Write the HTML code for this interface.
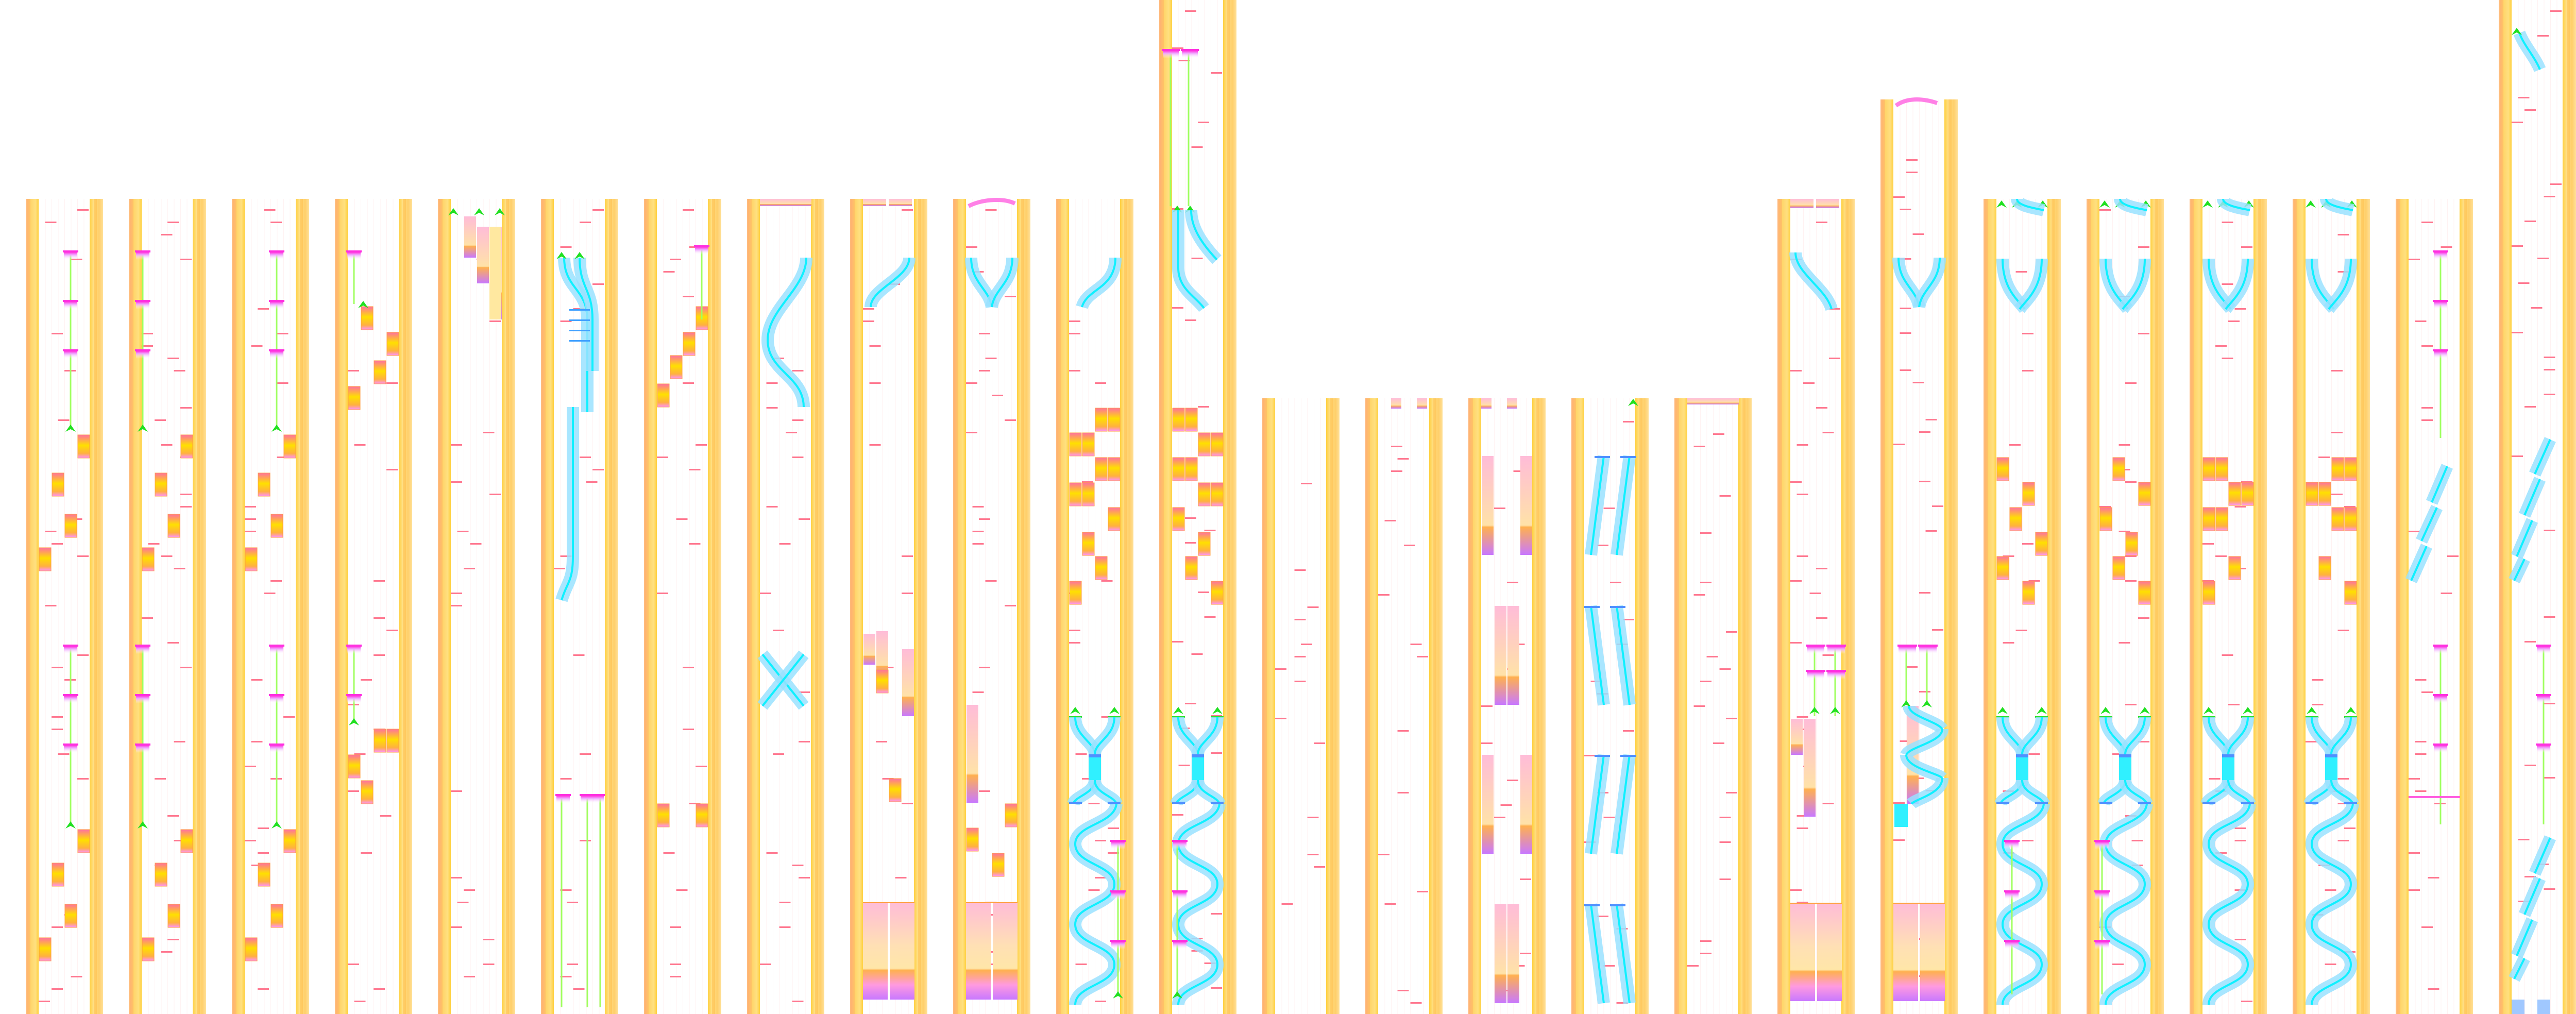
<!DOCTYPE html>
<html><head><meta charset="utf-8">
<style>
html,body{margin:0;padding:0;background:#fff;}
body{width:5050px;height:1968px;overflow:hidden;font-family:"Liberation Sans",sans-serif;}
svg{display:block}
</style></head>
<body>
<svg id="s" width="5050" height="1968" viewBox="0 0 5050 1968" xmlns="http://www.w3.org/2000/svg">
<defs>
<linearGradient id="barL" x1="0" x2="1" y1="0" y2="0">
<stop offset="0" stop-color="#ffb880"/><stop offset="0.35" stop-color="#ffd468"/><stop offset="0.75" stop-color="#ffe080"/><stop offset="1" stop-color="#ffd040"/></linearGradient>
<linearGradient id="barR" x1="0" x2="1" y1="0" y2="0">
<stop offset="0" stop-color="#ffd040"/><stop offset="0.3" stop-color="#ffe088"/><stop offset="0.7" stop-color="#ffcf6a"/><stop offset="1" stop-color="#ffe098"/></linearGradient>
<linearGradient id="boxG" x1="0" x2="0" y1="0" y2="1">
<stop offset="0" stop-color="#ff70a0"/><stop offset="0.45" stop-color="#ffe000"/><stop offset="0.8" stop-color="#ffb040"/><stop offset="1" stop-color="#ff90ff"/></linearGradient>
<linearGradient id="bigG" x1="0" x2="0" y1="0" y2="1">
<stop offset="0" stop-color="#ffbcd8"/><stop offset="0.45" stop-color="#ffe0b4"/><stop offset="0.68" stop-color="#ffe6a8"/><stop offset="0.7" stop-color="#ffb050"/><stop offset="0.85" stop-color="#ff9ae0"/><stop offset="1" stop-color="#c878ff"/></linearGradient>
<linearGradient id="tallG" x1="0" x2="0" y1="0" y2="1">
<stop offset="0" stop-color="#ffbcd8"/><stop offset="0.7" stop-color="#ffe2a8"/><stop offset="0.72" stop-color="#ffb050"/><stop offset="1" stop-color="#c878ff"/></linearGradient>
<linearGradient id="magG" x1="0" x2="0" y1="0" y2="1">
<stop offset="0" stop-color="#ff40e0"/><stop offset="0.3" stop-color="#f0a0ff"/><stop offset="1" stop-color="#ffffff" stop-opacity="0"/></linearGradient>
</defs>
<g id="g"></g>
</svg>
<script>
(function(){
var s='';
function R(x,y,w,h,f,ex){s+='<rect x="'+x+'" y="'+y+'" width="'+w+'" height="'+h+'" fill="'+f+'" '+(ex||'')+'/>';}
function P(d,st,w,op){s+='<path d="'+d+'" fill="none" stroke="'+st+'" stroke-width="'+w+'" stroke-opacity="'+(op||1)+'" stroke-linecap="butt"/>';}
var tops=[386,386,386,386,386,386,386,386,386,386,386,0,773,773,773,773,773,386,193,386,386,386,386,386,0];
var seed=7;function rnd(){seed=(seed*16807)%2147483647;return seed/2147483647;}
function cx(i){return 50+200*i;}
function L(i,l){return cx(i)+25+l*25;}
for(var i=0;i<25;i++){
 var x=cx(i),t=tops[i];
 for(var k=1;k<8;k++)R(x+25+k*12.5,t,1,1968-t,'#fff2f2');
 R(x,t,25,1968-t,'url(#barL)');
 R(x+124,t,26,1968-t,'url(#barR)');
 R(x+2,t,7,1968-t,'#ff9a60','opacity="0.3"');
 R(x+132,t,6,1968-t,'#ffb030','opacity="0.35"');
 var y=t+20;
 while(y<1950){ if(rnd()<0.36){var o=Math.floor(rnd()*7)*12.5; R(x+25+o,y,22,3,'#ff7890');} y+=24;}
}
function box(i,l,y){R(L(i,l)+1,y,23,45,'url(#boxG)','stroke="#ffa040" stroke-width="1"');}
function big(i,y0,y1){R(L(i,0),y0,48,y1-y0,'url(#bigG)');R(L(i,2)+2,y0,48,y1-y0,'url(#bigG)');R(L(i,0),y0,100,2,'#ffa040');}
function tall(i,l,y0,y1,w){R(L(i,l)+1,y0,w||23,y1-y0,'url(#tallG)');}
function mag(x,y,w){R(x,y,w||30,4,'#ff30e0');R(x+2,y+4,(w||30)-4,14,'url(#magG)');}
function gline(x,y0,y1){R(x-1.5,y0,3,y1-y0,'#a0ff60');}
function ghead(x,y){s+='<path d="M'+(x-10)+','+(y+8)+' L'+(x)+','+(y-6)+' L'+(x+10)+','+(y+8)+' L'+x+','+(y+3)+'Z" fill="#20e020"/>';}
function band(d){P(d,'#90f4ff',24,0.8);P(d,'#b8a8ff',24,0.2);P(d,'#10f0ff',4,1);}
[0,1,2].forEach(function(i){
 [[3,844],[1,918],[2,998],[0,1063],[3,1610],[1,1675],[2,1755],[0,1820]].forEach(function(b){box(i,b[0],b[1]);});
});
var lx=[L(0,2)+12,L(1,0)+2,L(2,2)+12];
[0,1,2].forEach(function(i){var X=lx[i];
 gline(X,490,830);mag(X-15,486);mag(X-15,582);mag(X-15,678);ghead(X,830);
 gline(X,1255,1600);mag(X-15,1251);mag(X-15,1347);mag(X-15,1443);ghead(X,1600);
});
[[1,595],[3,645],[2,700],[0,750]].forEach(function(b){box(3,b[0],b[1]);});
[[0,1465],[1,1515],[2,1415],[3,1415]].forEach(function(b){box(3,b[0],b[1]);});
gline(L(3,0)+12,1255,1400);mag(L(3,0)-3,1251);mag(L(3,0)-3,1347);ghead(L(3,0)+12,1400);
gline(L(3,0)+12,490,590);mag(L(3,0)-3,486);ghead(L(3,0)+30,590);
tall(4,1,420,500);tall(4,2,440,550);tall(4,3,440,620);R(L(4,3),440,23,180,'#ffe8a0');
ghead(L(4,0)+5,410);ghead(L(4,2)+5,410);ghead(L(4,3)+20,410);
band('M1095,500 C1095,560 1140,560 1140,620 L1140,800');
band('M1125,500 C1125,560 1150,560 1150,620 L1150,720');
band('M1112,790 L1112,1080 C1112,1130 1100,1130 1090,1165');
[600,620,640,660].forEach(function(y){R(1105,y,40,3,'#40a0ff');});
ghead(1090,495);ghead(1125,495);
gline(1090,1545,1955);gline(1140,1545,1955);gline(1165,1545,1955);mag(1078,1541);mag(1125,1541);mag(1150,1541,24);
[[0,745],[2,645],[1,690],[3,595]].forEach(function(b){box(6,b[0],b[1]);});
box(6,0,1560);box(6,3,1560);
gline(L(6,3)+12,480,620);mag(L(6,3)-3,476);
band('M1565,500 C1565,560 1490,600 1490,660 C1490,720 1560,730 1560,790');
band('M1480,1270 L1560,1370');band('M1560,1270 L1480,1370');
R(1475,386,100,14,'url(#tallG)');
band('M1765,500 C1765,540 1690,560 1690,596');
R(1675,386,45,14,'url(#tallG)');R(1725,386,45,14,'url(#tallG)');
tall(8,1,1225,1320);tall(8,0,1230,1290);tall(8,3,1260,1390);box(8,2,1511);box(8,1,1300);
big(8,1751,1940);
band('M1885,500 C1885,550 1920,560 1925,596');band('M1965,500 C1965,550 1930,560 1925,596');
P('M1880,400 C1910,385 1950,385 1970,395','#ff60e0',8,0.8);
tall(9,0,1368,1558);box(9,3,1560);box(9,0,1607);box(9,2,1656);
big(9,1751,1940);
function yw(i){var x0=L(i,0),c=x0+50;
 ghead(x0+12,1378);ghead(x0+88,1378);R(x0,1390,25,3,'#30e030');R(x0+75,1390,25,3,'#30e030');
 band('M'+(x0+12)+',1392 C'+(x0+12)+',1430 '+c+',1440 '+c+',1464');
 band('M'+(x0+88)+',1392 C'+(x0+88)+',1430 '+c+',1440 '+c+',1464');
 R(c-12,1464,24,50,'#30f0ff');R(c-12,1464,24,6,'#5090ff');
 band('M'+c+',1514 C'+c+',1540 '+(x0+12)+',1545 '+(x0+8)+',1560');
 band('M'+c+',1514 C'+c+',1540 '+(x0+88)+',1545 '+(x0+92)+',1560');
 var d='M'+(x0+92)+',1560';var yy=1560,left=true;
 for(var k=0;k<5;k++){var nx=left?x0+12:x0+88;d+=' C'+(left?x0+88:x0+12)+','+(yy+40)+' '+nx+','+(yy+40)+' '+nx+','+(yy+78);yy+=78;left=!left;}
 band(d);
 R(x0,1556,25,4,'#5090ff');R(x0+75,1556,25,4,'#5090ff');
}
band('M2165,500 C2165,560 2110,560 2100,596');
[[2,792],[3,792],[0,840],[1,840],[2,888],[3,888],[0,937],[1,937],[3,985],[1,1033],[2,1080],[0,1128]].forEach(function(b){box(10,b[0],b[1]);});
yw(10);
gline(2170,1634,1930);mag(2155,1630);mag(2155,1728);mag(2155,1824);ghead(2170,1930);
gline(2272,97,400);gline(2307,97,400);mag(2255,95,35);mag(2292,95,35);ghead(2285,405);ghead(2310,405);
band('M2287,408 L2287,520 C2287,560 2320,575 2337,598');
band('M2312,408 C2312,440 2330,470 2362,504');
[[0,792],[1,792],[2,840],[3,840],[0,888],[1,888],[2,937],[3,937],[0,985],[2,1033],[1,1080],[3,1128]].forEach(function(b){box(11,b[0],b[1]);});
yw(11);
gline(2285,1634,1930);mag(2275,1630);mag(2275,1728);mag(2275,1824);ghead(2285,1930);
R(2700,773,20,20,'url(#tallG)');R(2750,773,20,20,'url(#tallG)');
R(2875,773,20,20,'url(#tallG)');R(2925,773,20,20,'url(#tallG)');
[885,1465].forEach(function(y){tall(14,0,y,y+192);tall(14,3,y,y+192);});
[1176,1755].forEach(function(y){tall(14,1,y,y+192);tall(14,2,y,y+192);});
[885,1465].forEach(function(y){band('M3113,'+y+' L3088,'+(y+192));band('M3163,'+y+' L3138,'+(y+192));R(3095,y,30,4,'#5090ff');R(3145,y,30,4,'#5090ff');});
[1176,1755].forEach(function(y){band('M3088,'+y+' L3113,'+(y+192));band('M3138,'+y+' L3163,'+(y+192));R(3075,y,30,4,'#5090ff');R(3125,y,30,4,'#5090ff');});
ghead(3170,780);
R(3275,773,100,12,'url(#tallG)');
R(3475,386,45,18,'url(#tallG)');R(3525,386,45,18,'url(#tallG)');
band('M3485,490 C3485,530 3545,560 3555,600');
gline(3522,1255,1390);gline(3562,1255,1390);mag(3505,1251,38);mag(3545,1251,38);mag(3505,1300,38);mag(3545,1300,38);ghead(3522,1378);ghead(3562,1378);
tall(17,0,1395,1465);tall(17,1,1395,1585);
big(17,1752,1943);
P('M3680,205 C3700,190 3730,190 3760,200','#ff60e0',8,0.8);
band('M3685,500 C3685,550 3720,560 3725,596');band('M3765,500 C3765,550 3730,560 3725,596');
gline(3700,1255,1360);gline(3740,1255,1360);mag(3683,1251,38);mag(3723,1251,38);ghead(3700,1365);ghead(3740,1365);
tall(18,1,1370,1560);band('M3705,1370 C3705,1390 3760,1400 3770,1415');band('M3770,1415 C3770,1440 3705,1450 3700,1465');band('M3700,1465 C3700,1490 3760,1500 3770,1510');band('M3770,1510 C3770,1540 3720,1550 3710,1560');
R(3677,1560,26,45,'#30f0ff');
big(18,1752,1943);
[19,20,21,22].forEach(function(i,j){var x0=L(i,0);
 ghead(x0+10,395);ghead(x0+40,395);ghead(x0+90,395);
 band('M'+(x0+40)+',386 C'+(x0+40)+',400 '+(x0+80)+',405 '+(x0+92)+',408');
 band('M'+(x0+12)+',502 C'+(x0+12)+',560 '+(x0+40)+',580 '+(x0+55)+',600');
 band('M'+(x0+88)+',502 C'+(x0+88)+',560 '+(x0+60)+',580 '+(x0+45)+',600');
 var pats=[[[0,888],[2,936],[1,985],[3,1033],[0,1080],[2,1128]],[[1,888],[3,936],[0,985],[2,1033],[1,1080],[3,1128]],[[0,888],[1,888],[2,936],[3,936],[0,985],[1,985],[2,1080],[0,1128]],[[2,888],[3,888],[0,936],[1,936],[2,985],[3,985],[1,1080],[3,1128]]];
 pats[j].forEach(function(b){box(i,b[0],b[1]);});
 yw(i);
});
gline(L(19,1)+5,1634,1930);mag(L(19,1)-10,1630);mag(L(19,1)-10,1728);mag(L(19,1)-10,1824);
gline(L(20,0)+5,1634,1930);mag(L(20,0)-10,1630);mag(L(20,0)-10,1728);mag(L(20,0)-10,1824);
gline(L(23,2)+12,490,850);mag(L(23,2)-3,486);mag(L(23,2)-3,582);mag(L(23,2)-3,678);
gline(L(23,2)+12,1255,1600);mag(L(23,2)-3,1251);mag(L(23,2)-3,1347);mag(L(23,2)-3,1443);
band('M4750,905 L4720,975');band('M4730,985 L4700,1050');band('M4710,1060 L4680,1127');
R(4675,1545,100,4,'#ff60e0');
gline(L(24,2)+12,1255,1600);mag(L(24,2)-3,1251);mag(L(24,2)-3,1347);mag(L(24,2)-3,1443);
band('M4890,64 C4900,90 4920,110 4930,135');ghead(4885,60);
band('M4950,853 L4920,920');band('M4930,930 L4900,1000');band('M4915,1010 L4885,1080');band('M4900,1085 L4880,1127');
band('M4950,1626 L4920,1695');band('M4930,1705 L4900,1775');band('M4915,1785 L4885,1855');band('M4900,1860 L4880,1900');
R(4875,1940,25,28,'#a0c8ff');R(4925,1940,25,28,'#a0c8ff');
document.getElementById('g').innerHTML=s;
})();
</script>
</body></html>
